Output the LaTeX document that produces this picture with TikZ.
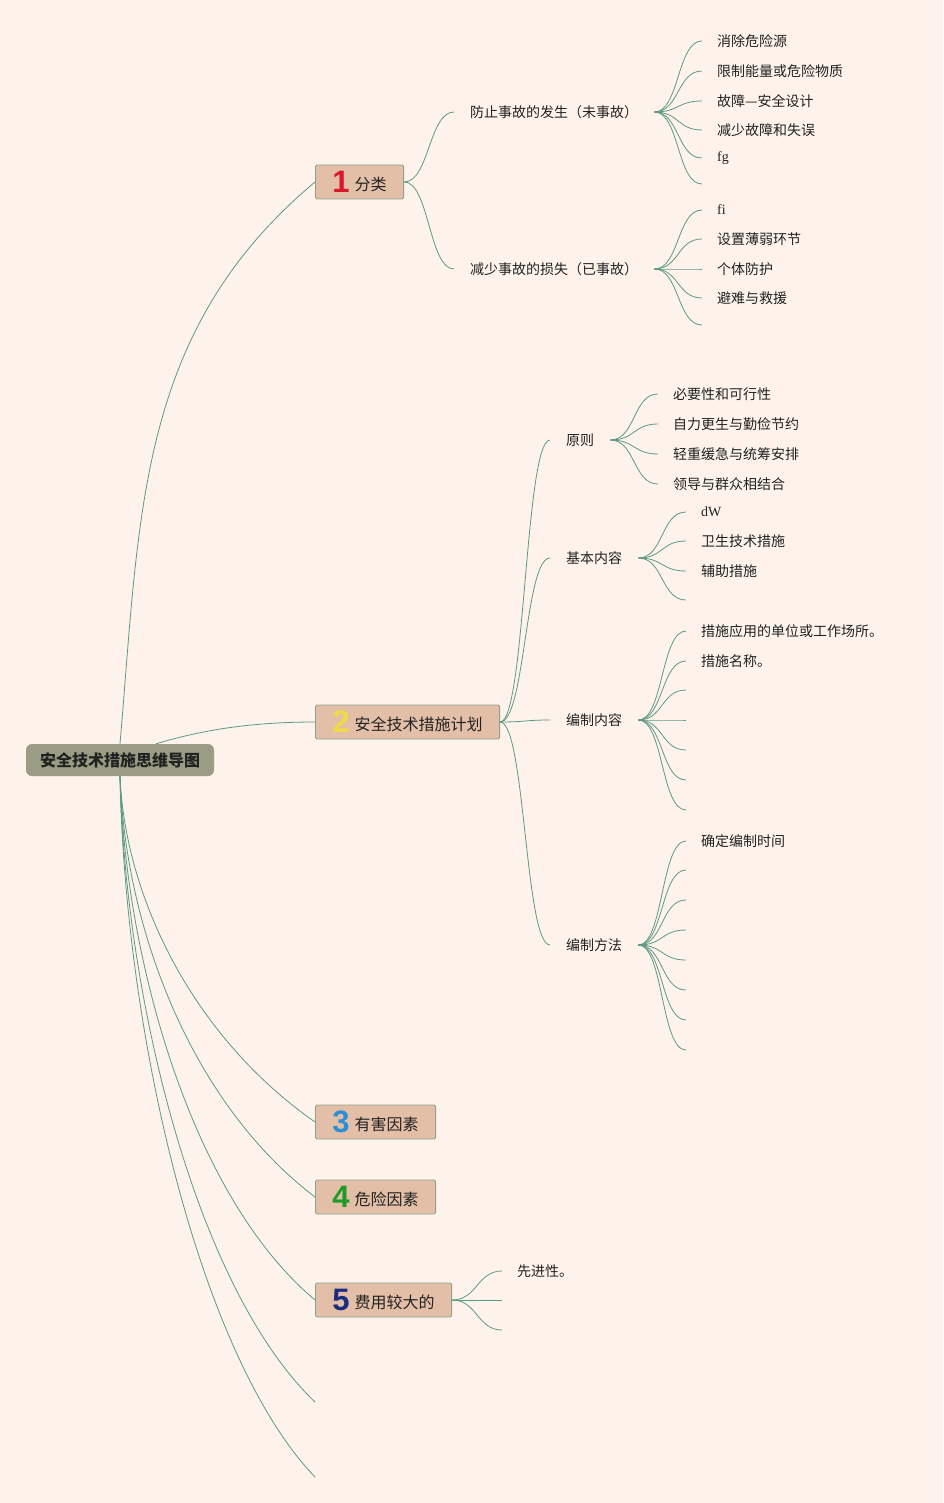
\documentclass[tikz,border=0pt]{standalone}
\usepackage{fontspec}
\setmainfont{Noto Sans CJK SC}
\newfontfamily\latin{Liberation Serif}
\newfontfamily\chiffre{Liberation Sans}
\usetikzlibrary{calc}

\definecolor{fond}{HTML}{FDF3EA}
\definecolor{vertlien}{HTML}{5E9985}
\definecolor{boite}{HTML}{E3BFA7}
\definecolor{bord}{HTML}{8FA091}
\definecolor{racine}{HTML}{9A9C83}
\definecolor{texte}{HTML}{222222}
\definecolor{rouge}{HTML}{D9182B}
\definecolor{jaune}{HTML}{F0DA46}
\definecolor{bleu}{HTML}{2F8FD5}
\definecolor{vert}{HTML}{1F9B2A}
\definecolor{marine}{HTML}{1C2C7E}

\newcommand{\num}[3]{{\chiffre\bfseries\fontsize{31}{31}\selectfont\color{#1}#2}\hspace{5pt}\raisebox{2.5pt}{#3}}

\tikzset{
  racinebox/.style={fill=racine, rounded corners=6pt, minimum width=188pt, minimum height=32pt,
    font=\fontsize{16}{16}\selectfont\bfseries, text=texte},
  theme/.style={anchor=west, fill=boite, draw=bord, line width=0.9pt, rounded corners=1.5pt,
    minimum height=34pt, inner xsep=17pt, inner ysep=0pt, font=\fontsize{16}{16}\selectfont, text=texte},
  sujet/.style={anchor=west, inner xsep=16pt, font=\fontsize{14}{14}\selectfont, text=texte},
  feuille/.style={anchor=west, inner xsep=15pt, font=\fontsize{14}{14}\selectfont, text=texte},
  lien/.style={draw=vertlien, line width=0.8pt},
}

\begin{document}
\begin{tikzpicture}[x=1pt,y=1pt]

% Fond
\fill[fond] (0,0) rectangle (943,-1503);
\useasboundingbox (0,0) rectangle (943,-1503);

% Racine et themes
\node[racinebox] (root) at (120,-760) {安全技术措施思维导图};
\node[theme] (b1) at (315,-182) {\num{rouge}{1}{分类}};
\node[theme] (b2) at (315,-722) {\num{jaune}{2}{安全技术措施计划}};
\node[theme] (b3) at (315,-1122) {\num{bleu}{3}{有害因素}};
\node[theme] (b4) at (315,-1197) {\num{vert}{4}{危险因素}};
\node[theme] (b5) at (315,-1300) {\num{marine}{5}{费用较大的}};
\coordinate (e6) at (315,-1402);
\coordinate (e7) at (315,-1477);

% Liens de la racine
\draw[lien] (root.north) .. controls +(20,231) and +(-178,-149) .. (b1.west);
\draw[lien] ($(root.north)+(36,0)$) .. controls +(40,12) and +(-70,0) .. (b2.west);
\draw[lien] (root.south) .. controls +(5,-120) and +(-123,86) .. (b3.west);
\draw[lien] (root.south) .. controls +(5,-150) and +(-125,95) .. (b4.west);
\draw[lien] (root.south) .. controls +(5,-180) and +(-125,105) .. (b5.west);
\draw[lien] (root.south) .. controls +(5,-220) and +(-120,115) .. (e6);
\draw[lien] (root.south) .. controls +(5,-260) and +(-115,120) .. (e7);

% Sous-themes
\node[sujet] (s11) at (454,-112) {防止事故的发生（未事故）};
\node[sujet] (s12) at (454,-269) {减少事故的损失（已事故）};
\node[sujet] (s21) at (550,-440) {原则};
\node[sujet] (s22) at (550,-558) {基本内容};
\node[sujet] (s23) at (550,-720) {编制内容};
\node[sujet] (s24) at (550,-945) {编制方法};

\draw[lien] (b1.east) .. controls +(25,0) and +(-25,0) .. (s11.west);
\draw[lien] (b1.east) .. controls +(25,0) and +(-25,0) .. (s12.west);
\draw[lien] (b2.east) .. controls +(25,0) and +(-25,0) .. (s21.west);
\draw[lien] (b2.east) .. controls +(25,0) and +(-25,0) .. (s22.west);
\draw[lien] (b2.east) .. controls +(25,0) and +(-25,0) .. (s23.west);
\draw[lien] (b2.east) .. controls +(25,0) and +(-25,0) .. (s24.west);

% Feuilles : 防止事故的发生
\node[feuille] (l111) at (702,-41) {消除危险源};
\node[feuille] (l112) at (702,-71) {限制能量或危险物质};
\node[feuille] (l113) at (702,-101) {故障—安全设计};
\node[feuille] (l114) at (702,-130) {减少故障和失误};
\node[feuille] (l115) at (702,-158) {\latin fg};
\coordinate (l116) at (702,-184);
\draw[lien] (s11.east) .. controls +(25,0) and +(-25,0) .. (l111.west);
\draw[lien] (s11.east) .. controls +(25,0) and +(-25,0) .. (l112.west);
\draw[lien] (s11.east) .. controls +(25,0) and +(-25,0) .. (l113.west);
\draw[lien] (s11.east) .. controls +(25,0) and +(-25,0) .. (l114.west);
\draw[lien] (s11.east) .. controls +(25,0) and +(-25,0) .. (l115.west);
\draw[lien] (s11.east) .. controls +(25,0) and +(-25,0) .. (l116);

% Feuilles : 减少事故的损失
\node[feuille] (l121) at (702,-210) {\latin fi};
\node[feuille] (l122) at (702,-239) {设置薄弱环节};
\node[feuille] (l123) at (702,-269) {个体防护};
\node[feuille] (l124) at (702,-298) {避难与救援};
\coordinate (l125) at (702,-325);
\draw[lien] (s12.east) .. controls +(25,0) and +(-25,0) .. (l121.west);
\draw[lien] (s12.east) .. controls +(25,0) and +(-25,0) .. (l122.west);
\draw[lien] (s12.east) .. controls +(25,0) and +(-25,0) .. (l123.west);
\draw[lien] (s12.east) .. controls +(25,0) and +(-25,0) .. (l124.west);
\draw[lien] (s12.east) .. controls +(25,0) and +(-25,0) .. (l125);

% Feuilles : 原则
\node[feuille] (l211) at (658,-394) {必要性和可行性};
\node[feuille] (l212) at (658,-424) {自力更生与勤俭节约};
\node[feuille] (l213) at (658,-454) {轻重缓急与统筹安排};
\node[feuille] (l214) at (658,-484) {领导与群众相结合};
\draw[lien] (s21.east) .. controls +(25,0) and +(-25,0) .. (l211.west);
\draw[lien] (s21.east) .. controls +(25,0) and +(-25,0) .. (l212.west);
\draw[lien] (s21.east) .. controls +(25,0) and +(-25,0) .. (l213.west);
\draw[lien] (s21.east) .. controls +(25,0) and +(-25,0) .. (l214.west);

% Feuilles : 基本内容
\node[feuille] (l221) at (686,-512) {\latin dW};
\node[feuille] (l222) at (686,-541) {卫生技术措施};
\node[feuille] (l223) at (686,-571) {辅助措施};
\coordinate (l224) at (686,-600);
\draw[lien] (s22.east) .. controls +(25,0) and +(-25,0) .. (l221.west);
\draw[lien] (s22.east) .. controls +(25,0) and +(-25,0) .. (l222.west);
\draw[lien] (s22.east) .. controls +(25,0) and +(-25,0) .. (l223.west);
\draw[lien] (s22.east) .. controls +(25,0) and +(-25,0) .. (l224);

% Feuilles : 编制内容
\node[feuille] (l231) at (686,-631) {措施应用的单位或工作场所。};
\node[feuille] (l232) at (686,-661) {措施名称。};
\coordinate (l233) at (686,-690);
\coordinate (l234) at (686,-720);
\coordinate (l235) at (686,-750);
\coordinate (l236) at (686,-780);
\coordinate (l237) at (686,-810);
\draw[lien] (s23.east) .. controls +(25,0) and +(-25,0) .. (l231.west);
\draw[lien] (s23.east) .. controls +(25,0) and +(-25,0) .. (l232.west);
\draw[lien] (s23.east) .. controls +(25,0) and +(-25,0) .. (l233);
\draw[lien] (s23.east) .. controls +(25,0) and +(-25,0) .. (l234);
\draw[lien] (s23.east) .. controls +(25,0) and +(-25,0) .. (l235);
\draw[lien] (s23.east) .. controls +(25,0) and +(-25,0) .. (l236);
\draw[lien] (s23.east) .. controls +(25,0) and +(-25,0) .. (l237);

% Feuilles : 编制方法
\node[feuille] (l241) at (686,-841) {确定编制时间};
\coordinate (l242) at (686,-870);
\coordinate (l243) at (686,-900);
\coordinate (l244) at (686,-930);
\coordinate (l245) at (686,-960);
\coordinate (l246) at (686,-990);
\coordinate (l247) at (686,-1020);
\coordinate (l248) at (686,-1050);
\draw[lien] (s24.east) .. controls +(25,0) and +(-25,0) .. (l241.west);
\draw[lien] (s24.east) .. controls +(25,0) and +(-25,0) .. (l242);
\draw[lien] (s24.east) .. controls +(25,0) and +(-25,0) .. (l243);
\draw[lien] (s24.east) .. controls +(25,0) and +(-25,0) .. (l244);
\draw[lien] (s24.east) .. controls +(25,0) and +(-25,0) .. (l245);
\draw[lien] (s24.east) .. controls +(25,0) and +(-25,0) .. (l246);
\draw[lien] (s24.east) .. controls +(25,0) and +(-25,0) .. (l247);
\draw[lien] (s24.east) .. controls +(25,0) and +(-25,0) .. (l248);

% Feuilles : 费用较大的
\node[feuille] (l51) at (502,-1271) {先进性。};
\coordinate (l52) at (502,-1300);
\coordinate (l53) at (502,-1330);
\draw[lien] (b5.east) .. controls +(25,0) and +(-25,0) .. (l51.west);
\draw[lien] (b5.east) .. controls +(25,0) and +(-25,0) .. (l52);
\draw[lien] (b5.east) .. controls +(25,0) and +(-25,0) .. (l53);

\end{tikzpicture}
\end{document}
